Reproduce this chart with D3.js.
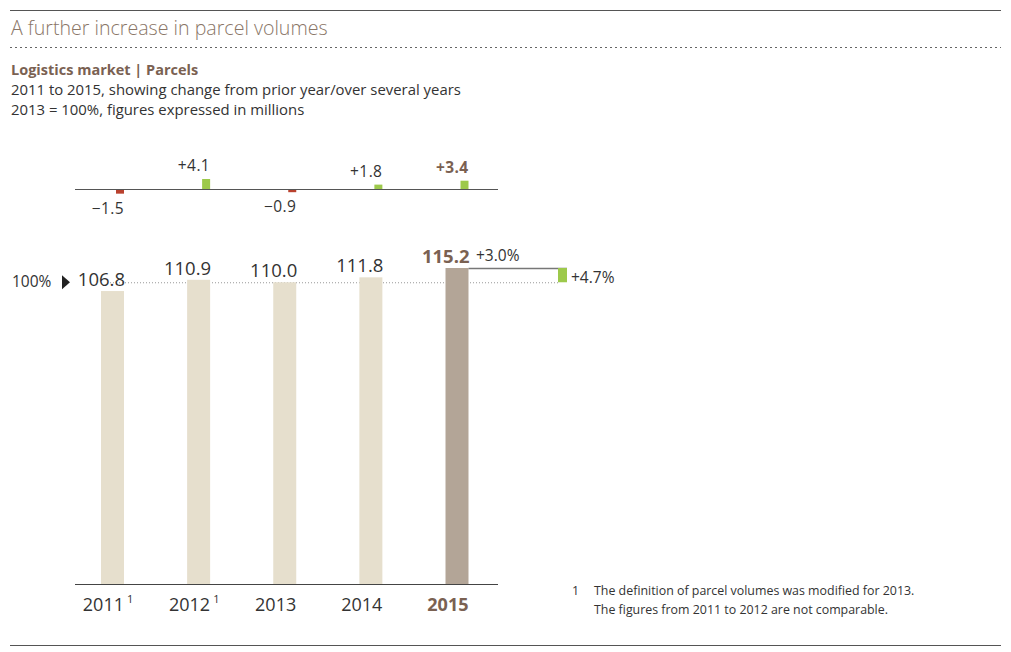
<!DOCTYPE html>
<html><head><meta charset="utf-8">
<script src="https://cdn.jsdelivr.net/npm/d3@7"></script>
<style>
body{margin:0;background:#fff;}
text{font-family:"Open Sans","Noto Sans",sans-serif;}
</style></head>
<body><svg id="c" width="1011" height="652"></svg>
<script>
const years = ["2011","2012","2013","2014","2015"];
const footMarks = ["1","1","","",""];
const volumes = [106.8,110.9,110.0,111.8,115.2];
const changes = [-1.5,4.1,-0.9,1.8,3.4];
const priorYearPct = "+3.0%";
const multiYearPct = "+4.7%";
const baseYearIndex = 2;

const svg = d3.select("#c");
const brown = "#7a6152", dark = "#333";

// header
svg.append("line").attr("x1",10).attr("x2",1001).attr("y1",10.5).attr("y2",10.5).attr("stroke","#555").attr("stroke-width",1.2);
svg.append("text").attr("x",11).attr("y",35).attr("font-size",19.6).attr("font-weight",300).attr("fill","#8a7667").text("A further increase in parcel volumes");
svg.append("line").attr("x1",10).attr("x2",1001).attr("y1",47.5).attr("y2",47.5).attr("stroke","#666").attr("stroke-dasharray","2,3");
svg.append("text").attr("x",11).attr("y",75).attr("font-size",14.5).attr("font-weight",700).attr("fill",brown).text("Logistics market | Parcels");
svg.append("text").attr("x",11).attr("y",95).attr("font-size",14.9).attr("fill",dark).text("2011 to 2015, showing change from prior year/over several years");
svg.append("text").attr("x",11).attr("y",115).attr("font-size",14.9).attr("fill",dark).text("2013 = 100%, figures expressed in millions");
svg.append("line").attr("x1",10).attr("x2",1001).attr("y1",645.5).attr("y2",645.5).attr("stroke","#555").attr("stroke-width",1.2);

// scales
const x = d3.scalePoint().domain(years).range([112.5,457]);
const bw = 23;
const y = d3.scaleLinear().domain([0,115.2]).range([584,268]);
const dy = d3.scaleLinear().domain([0,4.1]).range([0,10]);
const axisY = 189;

// 100% reference dotted line
const yBase = y(volumes[baseYearIndex]);
svg.append("line").attr("x1",110).attr("x2",558).attr("y1",yBase+0.5).attr("y2",yBase+0.5).attr("stroke","#999").attr("stroke-dasharray","1,2");
svg.append("text").attr("x",12).attr("y",yBase+5).attr("font-size",15.5).attr("fill",dark).text("100%");
svg.append("path").attr("d",`M62,${yBase-7}L70,${yBase}L62,${yBase+7}Z`).attr("fill","#222");

// bars
svg.selectAll("rect.bar").data(volumes).join("rect").attr("class","bar")
  .attr("x",(d,i)=>x(years[i])-bw/2).attr("width",bw)
  .attr("y",d=>y(d)).attr("height",d=>y(0)-y(d))
  .attr("fill",(d,i)=>i===4?"#b3a597":"#e6dfcd");
svg.selectAll("text.val").data(volumes).join("text").attr("class","val")
  .attr("x",(d,i)=>x(years[i])+bw/2+1).attr("y",d=>y(d)-5)
  .attr("text-anchor","end").attr("font-size",18.5)
  .attr("font-weight",(d,i)=>i===4?700:400)
  .attr("fill",(d,i)=>i===4?brown:dark).text(d=>d.toFixed(1));

// bottom axis
svg.append("line").attr("x1",75).attr("x2",498).attr("y1",584.5).attr("y2",584.5).attr("stroke","#444").attr("stroke-width",1.2);
svg.selectAll("text.yr").data(years).join("text").attr("class","yr")
  .attr("x",(d,i)=>x(d)+bw/2).attr("y",611).attr("text-anchor","end").attr("font-size",18)
  .attr("font-weight",(d,i)=>i===4?700:400).attr("fill",(d,i)=>i===4?brown:dark).text(d=>d);
svg.selectAll("text.fm").data(footMarks).join("text").attr("class","fm")
  .attr("x",(d,i)=>x(years[i])+bw/2+3).attr("y",603).attr("font-size",11).attr("fill",dark).text(d=>d);

// delta chart
svg.append("line").attr("x1",75).attr("x2",498).attr("y1",axisY+0.5).attr("y2",axisY+0.5).attr("stroke","#555").attr("stroke-width",1.2);
const dw = 8;
svg.selectAll("rect.d").data(changes).join("rect").attr("class","d")
  .attr("x",(d,i)=>x(years[i])+bw/2-dw).attr("width",dw)
  .attr("y",d=>d>0?axisY-dy(d):axisY+1).attr("height",d=>dy(Math.abs(d)))
  .attr("fill",d=>d>0?"#9dc94b":"#b9412e");
const fmt = d=>(d>0?"+":"\u2212")+Math.abs(d).toFixed(1);
svg.selectAll("text.d").data(changes).join("text").attr("class","d")
  .attr("x",(d,i)=>x(years[i])+bw/2).attr("y",d=>d>0?axisY-dy(d)-8:axisY+dy(-d)+21)
  .attr("text-anchor","end").attr("font-size",15.5).attr("letter-spacing",0.4)
  .attr("font-weight",(d,i)=>i===4?700:400).attr("fill",(d,i)=>i===4?brown:dark).text(fmt);

// bracket
const xr = x(years[4])+bw/2;
const yTop = y(volumes[4]);
svg.append("line").attr("x1",xr).attr("x2",567).attr("y1",yTop+0.5).attr("y2",yTop+0.5).attr("stroke","#777").attr("stroke-width",1.3);
svg.append("rect").attr("x",558).attr("width",9).attr("y",yTop).attr("height",yBase-yTop).attr("fill","#9dc94b");
svg.append("text").attr("x",476).attr("y",yTop-7).attr("font-size",15.5).attr("fill",dark).text(priorYearPct);
svg.append("text").attr("x",571).attr("y",yBase+1).attr("font-size",15.5).attr("fill",dark).text(multiYearPct);

// footnote
svg.append("text").attr("x",572).attr("y",595).attr("font-size",12.4).attr("fill",dark).text("1");
svg.append("text").attr("x",594).attr("y",595).attr("font-size",12.4).attr("fill",dark).text("The definition of parcel volumes was modified for 2013.");
svg.append("text").attr("x",594).attr("y",614).attr("font-size",12.4).attr("fill",dark).text("The figures from 2011 to 2012 are not comparable.");
</script></body></html>
